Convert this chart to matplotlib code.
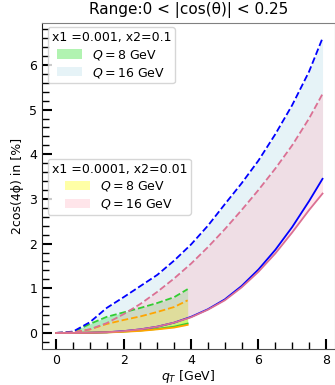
import numpy as np
import matplotlib
matplotlib.use('Agg')
import matplotlib.pyplot as plt
from matplotlib.ticker import MultipleLocator

plt.rcParams['font.family'] = ['DejaVu Sans']
plt.rcParams['font.size'] = 9

# ---- data ----
qt_16 = [0, 0.5, 1, 1.5, 2, 2.5, 3, 3.5, 4, 4.5, 5, 5.5, 6, 6.5, 7, 7.5, 7.9]
qt_8 = [0, 0.5, 1, 1.5, 2, 2.5, 3, 3.5, 3.9]

# x1=0.001, x2=0.1
ds1_q16_up = [0, 0.03, 0.24, 0.56, 0.8, 1.05, 1.3, 1.62, 1.98, 2.4, 2.88, 3.35, 3.86, 4.45, 5.1, 5.85, 6.6]
ds1_q16_lo = [0, 0.0, 0.005, 0.015, 0.04, 0.08, 0.14, 0.23, 0.36, 0.53, 0.75, 1.05, 1.42, 1.86, 2.37, 2.95, 3.45]
ds1_q8_up = [0, 0.02, 0.2, 0.36, 0.46, 0.56, 0.67, 0.8, 0.98]
ds1_q8_lo = [0, 0.0, 0.005, 0.012, 0.03, 0.055, 0.09, 0.14, 0.21]

# x1=0.0001, x2=0.01
ds2_q16_up = [0, 0.01, 0.08, 0.22, 0.42, 0.65, 0.92, 1.22, 1.55, 1.92, 2.32, 2.75, 3.2, 3.68, 4.2, 4.8, 5.35]
ds2_q16_lo = [0, 0.0, 0.005, 0.015, 0.04, 0.08, 0.14, 0.23, 0.35, 0.52, 0.73, 1.02, 1.37, 1.78, 2.25, 2.75, 3.12]
ds2_q8_up = [0, 0.01, 0.08, 0.2, 0.29, 0.37, 0.47, 0.58, 0.73]
ds2_q8_lo = [0, 0.0, 0.004, 0.01, 0.025, 0.045, 0.08, 0.12, 0.18]

fig = plt.figure(figsize=(3.35, 3.85), dpi=100)
ax = fig.add_axes([42 / 335, 1 - 349 / 385, (335 - 42) / 335, (349 - 22.5) / 385])

# dataset 1
f1a = ax.fill_between(qt_8, ds1_q8_lo, ds1_q8_up, color='lightgreen', alpha=0.7, lw=0)
f1b = ax.fill_between(qt_16, ds1_q16_lo, ds1_q16_up, color='lightblue', alpha=0.3, lw=0)
ax.plot(qt_8, ds1_q8_up, '--', color='limegreen', lw=1.3)
ax.plot(qt_8, ds1_q8_lo, '-', color='limegreen', lw=1.3)
ax.plot(qt_16, ds1_q16_up, '--', color='blue', lw=1.3)
ax.plot(qt_16, ds1_q16_lo, '-', color='blue', lw=1.3)

# dataset 2
f2a = ax.fill_between(qt_8, ds2_q8_lo, ds2_q8_up, color='yellow', alpha=0.35, lw=0)
f2b = ax.fill_between(qt_16, ds2_q16_lo, ds2_q16_up, color='pink', alpha=0.4, lw=0)
ax.plot(qt_8, ds2_q8_up, '--', color='orange', lw=1.3)
ax.plot(qt_8, ds2_q8_lo, '-', color='orange', lw=1.3)
ax.plot(qt_16, ds2_q16_up, '--', color='palevioletred', lw=1.3)
ax.plot(qt_16, ds2_q16_lo, '-', color='palevioletred', lw=1.3)

leg_kw = dict(fontsize=9, title_fontsize=9, labelspacing=0.3, borderpad=0.3,
              handleheight=0.75, borderaxespad=0, loc='upper left')
leg1 = ax.legend([f1a, f1b], ['$Q = 8$ GeV', '$Q = 16$ GeV'],
                 title='x1 =0.001, x2=0.1',
                 bbox_to_anchor=(0.02, 0.985), **leg_kw)
ax.add_artist(leg1)
ax.legend([f2a, f2b], ['$Q = 8$ GeV', '$Q = 16$ GeV'],
          title='x1 =0.0001, x2=0.01',
          bbox_to_anchor=(0.02, 0.582), **leg_kw)

ax.set_xlim(-0.42, 8.27)
ax.set_ylim(-0.36, 6.95)
ax.xaxis.set_major_locator(MultipleLocator(2))
ax.xaxis.set_minor_locator(MultipleLocator(0.5))
ax.yaxis.set_major_locator(MultipleLocator(1))
ax.yaxis.set_minor_locator(MultipleLocator(0.2))
ax.tick_params(which='both', direction='in', top=False, right=False)
ax.tick_params(which='major', length=7, width=1.5)
ax.tick_params(which='minor', length=5, width=1.0)

for s in ['top', 'right']:
    ax.spines[s].set_color('0.5')
ax.spines['left'].set_color('0.15')
ax.spines['bottom'].set_color('0.3')

ax.set_title('Range:0 < |cos(θ)| < 0.25', fontsize=11)
ax.set_xlabel('$q_T$ [GeV]', labelpad=1)
ax.set_ylabel('2cos(4ϕ) in [%]')

fig.savefig('out.png', dpi=100)
